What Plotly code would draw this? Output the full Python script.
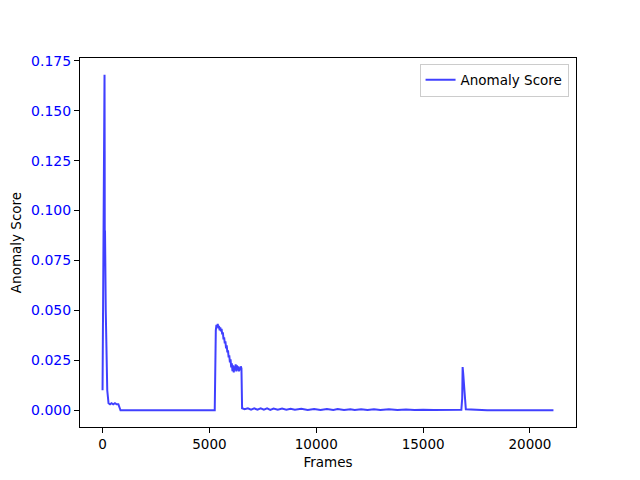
import plotly.graph_objects as go

# frame numbers and anomaly scores
frames = [
    0, 40, 80, 93, 100, 105, 115, 130, 150, 180, 220, 280, 350, 420, 500,
    580, 660, 740, 800, 840, 2000, 3000, 4000, 5000, 5250,
    5300, 5330, 5360, 5390, 5420, 5450, 5480, 5510, 5540, 5570, 5600, 5630,
    5660, 5690, 5720, 5750, 5780, 5810, 5840, 5870, 5900, 5930, 5960, 5990,
    6020, 6050, 6080, 6110, 6140, 6170, 6200, 6230, 6260, 6290, 6320, 6350,
    6380, 6410, 6440, 6470, 6500, 6530,
    6650, 6800, 6950, 7100, 7250, 7400, 7550, 7700, 7850, 8000, 8200, 8400,
    8600, 8800, 9000, 9300, 9600, 9900, 10200, 10500, 10800, 11000, 11300,
    11600, 11800, 12100, 12400, 12700, 13000, 13400, 13800, 14200, 14600,
    15000, 15500, 16000, 16500, 16760,
    16790, 16830, 16850, 16880, 16920, 16960, 17000, 18000, 19000, 20000, 21100,
]
scores = [
    0.010, 0.080, 0.150, 0.168, 0.130, 0.074, 0.090, 0.074, 0.050, 0.025,
    0.010, 0.0035, 0.003, 0.0035, 0.003, 0.0035, 0.003, 0.003, 0.0015, 0.0,
    0.0, 0.0, 0.0, 0.0, 0.0,
    0.040, 0.0428, 0.0415, 0.0432, 0.0410, 0.0422, 0.0400, 0.0415, 0.0395,
    0.0408, 0.0380, 0.0390, 0.0355, 0.0365, 0.0335, 0.0345, 0.0310, 0.0325,
    0.0290, 0.0300, 0.0265, 0.0275, 0.0240, 0.0255, 0.0215, 0.0235, 0.0195,
    0.0225, 0.0190, 0.0220, 0.0200, 0.0230, 0.0195, 0.0225, 0.0200, 0.0220,
    0.0195, 0.0215, 0.0200, 0.0220, 0.0210, 0.0010,
    0.0005, 0.0010, 0.0003, 0.0009, 0.0003, 0.0010, 0.0003, 0.0009, 0.0002,
    0.0008, 0.0002, 0.0008, 0.0002, 0.0007, 0.0002, 0.0007, 0.0001, 0.0006,
    0.0001, 0.0006, 0.0001, 0.0006, 0.0001, 0.0005, 0.0001, 0.0005, 0.0001,
    0.0005, 0.0001, 0.0005, 0.0001, 0.0004, 0.0001, 0.0003,
    0.0001, 0.0002, 0.0001, 0.0001, 0.0002,
    0.006, 0.0216, 0.018, 0.012, 0.004, 0.0005, 0.0, 0.0, 0.0, 0.0, 0.0,
]

y_ticks = [0, 0.025, 0.05, 0.075, 0.1, 0.125, 0.15, 0.175]
x_ticks = [0, 5000, 10000, 15000, 20000]

fig = go.Figure()
fig.add_trace(go.Scatter(x=frames, y=scores, mode="lines", name="Anomaly Score",
                         line=dict(color="rgba(0,0,255,0.75)", width=2)))

axis_style = dict(showline=True, linecolor="black", linewidth=1, mirror=True,
                  ticks="outside", ticklen=5, tickcolor="black", showgrid=False,
                  zeroline=False, automargin=False)

# the page body has an 8px margin, so the figure is shrunk and shifted to fit
fig.update_layout(
    width=632, height=472,
    margin=dict(l=72, r=64, t=50, b=53),
    plot_bgcolor="white", paper_bgcolor="white",
    font=dict(family="DejaVu Sans", size=14, color="black"),
    showlegend=True,
    legend=dict(x=0.985, y=0.985, xanchor="right", yanchor="top",
                bordercolor="#cccccc", borderwidth=1, bgcolor="white",
                font=dict(size=13.5)),
    xaxis=dict(title=dict(text="Frames", standoff=6, font=dict(size=13.5)),
               range=[-1055, 22155], tickvals=x_ticks,
               ticktext=[str(v) for v in x_ticks], tickfont=dict(size=13.5),
               **axis_style),
    yaxis=dict(title=dict(text="Anomaly Score", standoff=8, font=dict(size=13.5)),
               range=[-0.0084, 0.1764], tickvals=y_ticks,
               ticktext=["%.3f" % v for v in y_ticks],
               tickfont=dict(color="blue", size=14), **axis_style),
)

fig.write_html("out.html")
